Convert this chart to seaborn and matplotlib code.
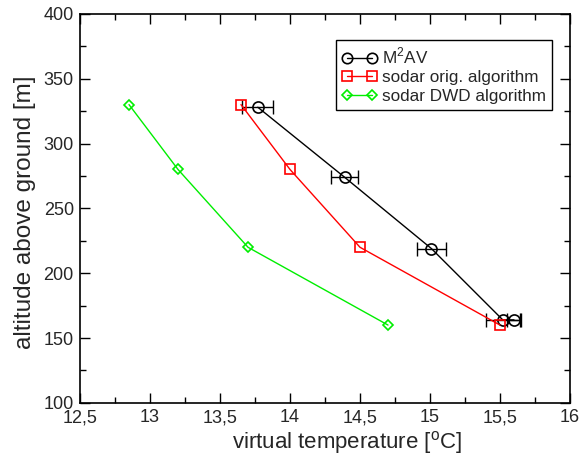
import matplotlib
matplotlib.use("Agg")
import matplotlib.pyplot as plt
import seaborn as sns
import pandas as pd
from matplotlib.ticker import MultipleLocator, FuncFormatter
from matplotlib.lines import Line2D

sns.set_style("ticks")
plt.rcParams['font.family'] = ['Liberation Sans', 'DejaVu Sans']
plt.rcParams['mathtext.fontset'] = 'custom'
plt.rcParams['mathtext.rm'] = 'Liberation Sans'

m2av_temp = [13.77, 14.39, 15.01, 15.52, 15.60]
m2av_alt = [328, 274, 219, 164, 164]
m2av_err = [0.11, 0.095, 0.105, 0.12, 0.05]

orig_temp = [13.65, 14.0, 14.5, 15.5]
orig_alt = [330, 280, 220, 160]

dwd_temp = [12.85, 13.2, 13.7, 14.7]
dwd_alt = [330, 280, 220, 160]

fig = plt.figure(figsize=(5.84, 4.62), dpi=100)
ax = fig.add_axes([0.137, 0.128, 0.839, 0.842])

df_m = pd.DataFrame({"t": m2av_temp, "h": m2av_alt})
df_o = pd.DataFrame({"t": orig_temp, "h": orig_alt})
df_d = pd.DataFrame({"t": dwd_temp, "h": dwd_alt})

ax.errorbar(m2av_temp, m2av_alt, xerr=m2av_err, fmt='none', ecolor='black',
            elinewidth=1.0, capsize=5, capthick=1.0, zorder=3)
sns.lineplot(data=df_m, x="t", y="h", sort=False, ax=ax, color='black', lw=1.0,
             marker='o', markersize=8, markerfacecolor='none', markeredgecolor='black',
             markeredgewidth=1.2, zorder=4)
sns.lineplot(data=df_o, x="t", y="h", sort=False, ax=ax, color='#ff0000', lw=1.0,
             marker='s', markersize=7, markerfacecolor='none', markeredgecolor='#ff0000',
             markeredgewidth=1.2, zorder=4)
sns.lineplot(data=df_d, x="t", y="h", sort=False, ax=ax, color='#00ee00', lw=1.0,
             marker='D', markersize=5.5, markerfacecolor='none', markeredgecolor='#00ee00',
             markeredgewidth=1.2, zorder=4)

ax.set_xlim(12.5, 16)
ax.set_ylim(100, 400)
ax.xaxis.set_major_locator(MultipleLocator(0.5))
ax.xaxis.set_minor_locator(MultipleLocator(0.25))
ax.yaxis.set_major_locator(MultipleLocator(50))
ax.yaxis.set_minor_locator(MultipleLocator(25))

def comma(v, pos):
    return ('%g' % v).replace('.', ',')
ax.xaxis.set_major_formatter(FuncFormatter(comma))

ax.tick_params(which='both', direction='in', top=True, right=True, color='black')
ax.tick_params(which='major', length=7, width=1.0, labelsize=13, pad=4.5)
ax.tick_params(which='minor', length=4, width=1.0)
for s in ax.spines.values():
    s.set_color('black')
    s.set_linewidth(1.2)

ax.set_xlabel('virtual temperature [$^{\\mathrm{o}}$C]', fontsize=16)
ax.xaxis.set_label_coords(0.545, -0.068)
ax.set_ylabel('altitude above ground [m]', fontsize=17.5)
ax.yaxis.set_label_coords(-0.09, 0.49)

handles = [
    Line2D([], [], color='black', lw=1.0, marker='o', markersize=7.5, mfc='none', mew=1.2),
    Line2D([], [], color='#ff0000', lw=1.0, marker='s', markersize=6.5, mfc='none', mew=1.2),
    Line2D([], [], color='#00ee00', lw=1.0, marker='D', markersize=5.5, mfc='none', mew=1.2),
]
labels = ['M$^2$AV', 'sodar orig. algorithm', 'sodar DWD algorithm']
leg = ax.legend(handles, labels, loc='upper right', bbox_to_anchor=(0.963, 0.933),
                numpoints=2, fontsize=12.3, frameon=True, fancybox=False,
                framealpha=1, edgecolor='black', handlelength=2.1, handletextpad=0.25,
                borderpad=0.35, labelspacing=0.22, borderaxespad=0)
leg.get_frame().set_linewidth(1.0)

fig.savefig('out.png', dpi=100)
